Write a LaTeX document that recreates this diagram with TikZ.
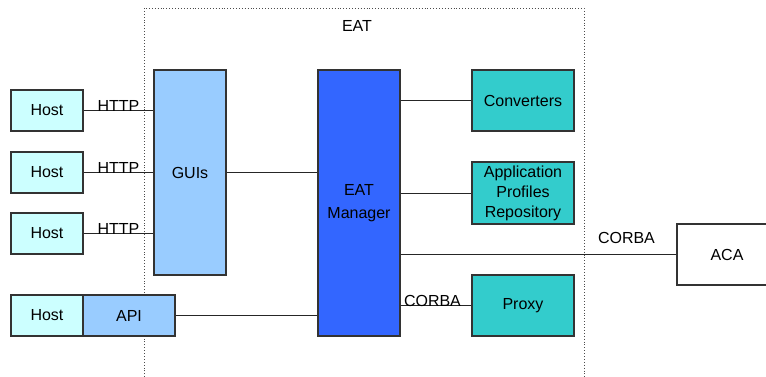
\documentclass[tikz,border=0pt]{standalone}
\usepackage{fontspec}
\setmainfont{Liberation Sans}
\usetikzlibrary{calc}
\definecolor{hostcol}{HTML}{CCFFFF}
\definecolor{guicol}{HTML}{99CCFF}
\definecolor{mgrcol}{HTML}{3366FF}
\definecolor{compcol}{HTML}{33CCCC}
\definecolor{edgecol}{HTML}{333333}
\tikzset{
	blk/.style={draw=edgecol, line width=1.1pt, inner sep=0pt, align=center, font=\fontsize{16}{20}\selectfont},
	hostbox/.style={blk, fill=hostcol, minimum width=72, minimum height=41},
	compbox/.style={blk, fill=compcol, minimum width=102, minimum height=61},
	link/.style={line width=1pt, color=black!85},
	lbl/.style={inner sep=0pt, anchor=base, font=\fontsize{16}{18}\selectfont}
}

\begin{document}
\begin{tikzpicture}[x=1pt, y=-1pt]
			%%%%% START %%%%%
			\clip (0, 0) rectangle (766, 376);
			
			\draw[dotted, line width=0.9pt, color=black!70] (144, 380) -- (144, 8) -- (584, 8) -- (584, 380);
			\node[lbl, anchor=center] (eat) at (357, 26) {EAT};
			
			\node[hostbox] (h1) at (47, 110.5) {Host};
			\node[hostbox] (h2) at (47, 172.5) {Host};
			\node[hostbox] (h3) at (47, 233.5) {Host};
			\node[hostbox] (h4) at (47, 315.5) {Host};
			\node[blk, fill=guicol, minimum width=92, minimum height=41] (api) at (129, 315.5) {API};
			
			\node[blk, fill=guicol, minimum width=72, minimum height=205] (guis) at (190, 172.5) {GUIs};
			\node[blk, fill=mgrcol, minimum width=82, minimum height=266, font=\fontsize{16}{23}\selectfont] (mgr) at (359, 203) {EAT\\Manager};
			
			\node[compbox] (conv) at (523, 100.5) {Converters};
			\node[compbox, minimum height=62] (prof) at (523, 193) {Application\\Profiles\\Repository};
			\node[compbox] (proxy) at (523, 305.5) {Proxy};
			\node[blk, fill=white, minimum width=100, minimum height=61] (aca) at (727, 254.5) {ACA};
			
			% hosts to GUIs
			\foreach \h in {h1, h2, h3}{
				\draw[link] (\h.east) -- (\h -| guis.west);
				\node[lbl] at ($(\h.east)!0.5!(\h -| guis.west)+(0, 1)$) {HTTP};
			}
			\draw[link] (guis.east |- h2) -- (h2 -| mgr.west);
			\draw[link] (api.east) -- (api -| mgr.west);
			
			% manager to components
			\draw[link] (mgr.east |- conv) -- (conv.west);
			\draw[link] (mgr.east |- prof) -- (prof.west);
			\draw[link] (mgr.east |- proxy) -- (proxy.west);
			\node[lbl] at ($(mgr.east |- proxy)!0.45!(proxy.west)+(0, 1)$) {CORBA};
			\draw[link] (mgr.east |- aca) -- (aca.west);
			\node[lbl] at ($(aca.west)+(-50, -11)$) {CORBA};
			
			%%%%% END %%%%%
\end{tikzpicture}
\end{document}
